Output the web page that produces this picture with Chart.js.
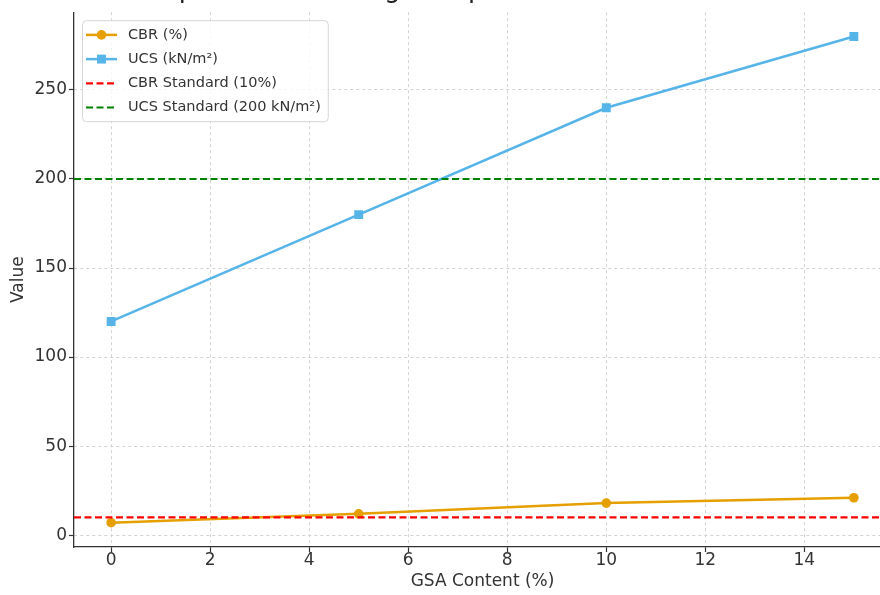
<!DOCTYPE html>
<html><head><meta charset="utf-8">
<script src="https://cdn.jsdelivr.net/npm/chart.js@4/dist/chart.umd.min.js"></script>
<style>
html,body{margin:0;padding:0;background:#fff;}
#wrap{position:relative;width:880px;height:595px;overflow:hidden;background:#fff;}
#c{position:absolute;left:0;top:0;}
</style></head><body>
<div id="wrap"><canvas id="c" width="900" height="595"></canvas></div>
<script>
const chartTitle = "Comparison of Strength Improvement with GSA Content";
const gsaContent = [0, 5, 10, 15];
const cbrValues = [7, 12, 18, 21];
const ucsValues = [120, 180, 240, 280];
const cbrStandard = 10;
const ucsStandard = 200;
const xTicks = [0, 2, 4, 6, 8, 10, 12, 14];
const yTicks = [0, 50, 100, 150, 200, 250];
const seriesLabels = ["CBR (%)", "UCS (kN/m²)", "CBR Standard (10%)", "UCS Standard (200 kN/m²)"];
const xAxisLabel = "GSA Content (%)";
const yAxisLabel = "Value";
const X_MIN = -0.75, X_MAX = 15.75, Y_MIN = -6.65, Y_MAX = 293.65;

const FONT = '"DejaVu Sans", "Liberation Sans", sans-serif';
const TXT = '#333333';

const pts = (xs, ys) => xs.map((x, i) => ({x: x, y: ys[i]}));
const hline = (v) => [{x: X_MIN, y: v}, {x: X_MAX, y: v}];

const legendPlugin = {
  id: 'mplLegend',
  afterDatasetsDraw(chart) {
    const ctx = chart.ctx, ca = chart.chartArea;
    ctx.save();
    ctx.font = '14.5px ' + FONT;
    const rowH = 24.2;
    const x0 = ca.left + 8, y0 = ca.top + 8;
    const tw = Math.max(...chart.data.datasets.map(d => ctx.measureText(d.label).width));
    const w = 46 + tw + 7, h = 101;
    ctx.beginPath();
    ctx.roundRect(x0 + 0.5, y0 + 0.5, w, h, 4);
    ctx.fillStyle = 'rgba(255,255,255,0.8)';
    ctx.fill();
    ctx.strokeStyle = '#d6d6d6';
    ctx.lineWidth = 1;
    ctx.stroke();
    chart.data.datasets.forEach((d, i) => {
      const cy = y0 + 14.7 + i * rowH;
      ctx.beginPath();
      ctx.setLineDash(d.borderDash || []);
      ctx.moveTo(x0 + 4, cy);
      ctx.lineTo(x0 + 35, cy);
      ctx.strokeStyle = d.borderColor;
      ctx.lineWidth = d.borderWidth;
      ctx.stroke();
      ctx.setLineDash([]);
      if (d.pointRadius > 0) {
        ctx.fillStyle = d.borderColor;
        const mx = x0 + 19.5;
        if (d.pointStyle === 'rect') {
          const s = d.pointRadius * Math.SQRT1_2;
          ctx.fillRect(mx - s, cy - s, 2 * s, 2 * s);
        } else {
          ctx.beginPath();
          ctx.arc(mx, cy, d.pointRadius, 0, Math.PI * 2);
          ctx.fill();
        }
      }
      ctx.fillStyle = TXT;
      ctx.textBaseline = 'middle';
      ctx.textAlign = 'left';
      ctx.fillText(d.label, x0 + 46, cy);
    });
    ctx.restore();
  }
};

const titlePlugin = {
  id: 'mplTitle',
  afterDraw(chart) {
    const ctx = chart.ctx, ca = chart.chartArea;
    ctx.save();
    ctx.font = '25.8px ' + FONT;
    ctx.fillStyle = '#222';
    ctx.textAlign = 'center';
    ctx.textBaseline = 'alphabetic';
    ctx.fillText(chartTitle, (ca.left + ca.right) / 2, -3.5);
    ctx.restore();
  }
};

const axisCommon = (ticksArr) => ({
  type: 'linear',
  afterBuildTicks(axis) { axis.ticks = ticksArr.map(v => ({value: v})); },
  grid: {
    color: '#cfcfcf', lineWidth: 0.9,
    drawTicks: true, tickLength: 5, tickColor: '#333', tickWidth: 1.2, tickBorderDash: []
  },
  border: { display: true, color: '#333', width: 1.3, dash: [3, 3] },
  ticks: { font: {family: FONT, size: 17}, color: TXT, autoSkip: false, maxRotation: 0 }
});

const xScale = axisCommon(xTicks);
xScale.min = X_MIN; xScale.max = X_MAX;
xScale.afterFit = (s) => { s.height = 48; };
xScale.ticks.padding = -2;
xScale.title = { display: true, text: xAxisLabel, color: TXT, font: {family: FONT, size: 17}, padding: {top: 0, bottom: 3} };

const yScale = axisCommon(yTicks);
yScale.min = Y_MIN; yScale.max = Y_MAX;
yScale.afterFit = (s) => { s.width = 74; };
yScale.ticks.padding = 2;
yScale.title = { display: true, text: yAxisLabel, color: TXT, font: {family: FONT, size: 17}, padding: {top: 8, bottom: 0} };

new Chart(document.getElementById('c'), {
  type: 'line',
  data: {
    datasets: [
      { label: seriesLabels[0], data: pts(gsaContent, cbrValues), borderColor: '#E69F00', backgroundColor: '#E69F00',
        borderWidth: 2.5, pointStyle: 'circle', pointRadius: 4.8, pointBorderWidth: 0, pointBackgroundColor: '#E69F00', order: 4 },
      { label: seriesLabels[1], data: pts(gsaContent, ucsValues), borderColor: '#56B4E9', backgroundColor: '#56B4E9',
        borderWidth: 2.5, pointStyle: 'rect', pointRadius: 6.3, pointBorderWidth: 0, pointBackgroundColor: '#56B4E9', order: 3 },
      { label: seriesLabels[2], data: hline(cbrStandard), borderColor: '#ff0000', borderWidth: 2.2,
        borderDash: [7, 3.5], pointRadius: 0, order: 2 },
      { label: seriesLabels[3], data: hline(ucsStandard), borderColor: '#008000', borderWidth: 2.2,
        borderDash: [7, 3.5], pointRadius: 0, order: 1 }
    ]
  },
  options: {
    responsive: false,
    animation: false,
    events: [],
    devicePixelRatio: 1,
    layout: { padding: { left: 0, top: 10, right: 9, bottom: 0 } },
    elements: { line: { tension: 0 } },
    plugins: { legend: { display: false }, tooltip: { enabled: false }, title: { display: false } },
    scales: { x: xScale, y: yScale }
  },
  plugins: [legendPlugin, titlePlugin]
});
</script>
</body></html>
